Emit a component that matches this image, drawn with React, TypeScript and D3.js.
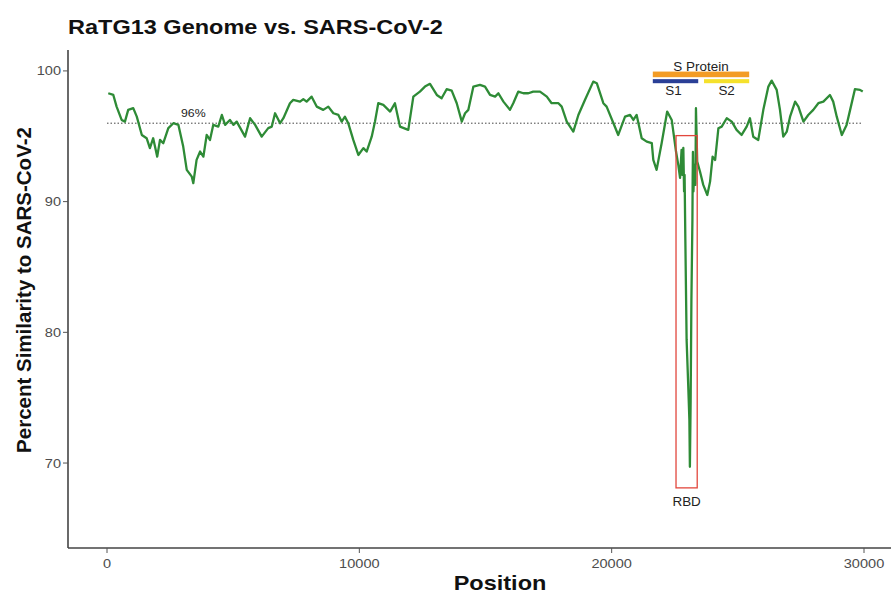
import React from "react";
import * as d3 from "d3";

const positions = [50,250,380,580,710,840,1040,1180,1380,1570,1700,1830,1990,2100,2230,2430,2630,2830,3020,3160,3360,3420,3550,3690,3820,3950,4080,4210,4410,4550,4680,4870,5010,5140,5470,5670,5870,6130,6390,6530,6660,6860,6990,7250,7380,7650,7780,7910,8110,8310,8570,8770,8970,9170,9300,9430,9560,9760,9960,10160,10290,10490,10620,10750,10950,11220,11410,11610,11940,12140,12400,12600,12800,13070,13260,13460,13660,13860,14060,14190,14320,14520,14780,14980,15180,15380,15510,15710,15970,16100,16300,16500,16700,16890,17160,17430,17620,17890,18020,18220,18480,18680,18940,19270,19410,19670,19800,20070,20260,20530,20730,20860,20990,21190,21390,21590,21650,21780,21980,22200,22380,22550,22640,22710,22770,22800,22840,22870,22890,22920,22970,23040,23080,23100,23130,23160,23200,23210,23220,23240,23280,23320,23340,23390,23500,23630,23790,23900,24000,24100,24230,24360,24560,24760,24950,25150,25350,25480,25610,25810,26010,26210,26340,26540,26670,26800,26940,27070,27270,27400,27600,27790,27990,28190,28390,28650,28780,28920,29120,29310,29450,29640,29840,29950];

const similarity = [98.29,98.16,97.27,96.25,96.12,97.02,97.15,96.5,95.1,94.85,94.09,94.85,93.44,94.72,94.47,95.62,96.0,95.87,94.21,92.43,91.91,91.41,93.19,93.83,93.44,95.1,94.72,95.87,95.74,96.63,95.87,96.25,95.87,96.12,94.97,96.38,95.87,94.97,95.62,95.74,96.76,96.0,96.38,97.53,97.78,97.65,97.84,97.65,98.03,97.27,97.02,97.27,96.76,96.63,96.12,96.5,96.0,94.72,93.57,94.09,93.83,94.97,96.12,97.53,97.4,96.89,97.53,95.74,95.49,98.03,98.42,98.8,99.01,98.16,97.91,98.6,98.49,97.53,96.12,96.76,97.02,98.8,98.93,98.8,98.16,98.03,98.29,97.65,97.02,97.53,98.42,98.29,98.29,98.42,98.42,98.03,97.53,97.53,97.27,96.12,95.36,96.63,97.78,99.18,99.06,97.53,97.27,96.0,95.1,96.5,96.63,96.25,96.63,94.85,94.59,94.47,93.19,92.43,94.47,96.89,96.25,93.83,92.81,91.81,93.96,92.04,94.11,90.77,92.04,87.07,79.42,75.6,73.3,69.71,74.83,82.48,88.6,91.66,93.8,90.77,92.81,91.28,97.15,93.06,92.3,91.28,90.51,91.53,93.44,93.19,95.62,95.74,96.38,96.12,95.49,95.1,95.74,96.38,94.97,94.72,97.02,98.8,99.26,98.55,97.02,94.97,95.36,96.5,97.65,97.27,96.12,96.63,97.02,97.53,97.65,98.16,97.65,96.5,95.1,95.87,97.02,98.6,98.55,98.42];

const xTicks = [0, 10000, 20000, 30000];
const yTicks = [70, 80, 90, 100];
const threshold = 96;
const thresholdLabel = "96%";
const thresholdLabelPos = 3420;
const thresholdRange = [0, 29900];

const sProtein = [21630, 25450];
const s1Range = [21630, 23430];
const s2Range = [23660, 25450];
const rbdX = [22550, 23390];
const rbdY = [68.1, 95.05];

const W = 891, H = 595;
const left = 68, right = 891, top = 50, bottom = 548;
const xDomain = [-1546, 31070];
const yDomain = [63.5, 101.6];
const FONT = "'Liberation Sans', Arial, Helvetica, sans-serif";
const SX = 1.12;

function HText({ x, y, anchor = "start", size, weight = "normal", fill = "#222", children }: any) {
  return (
    <text transform={`translate(${x},${y}) scale(${SX},1)`} textAnchor={anchor}
      fontSize={size} fontWeight={weight} fill={fill} fontFamily={FONT}>{children}</text>
  );
}

export default function App() {
  const x = d3.scaleLinear().domain(xDomain).range([left, right]);
  const y = d3.scaleLinear().domain(yDomain).range([bottom, top]);
  const data = positions.map((p, i) => [p, similarity[i]] as [number, number]);
  const line = d3.line<[number, number]>().x(d => x(d[0])).y(d => y(d[1]));

  return (
    <svg width={W} height={H} style={{ position: "absolute", left: 0, top: 0, background: "#fff" }}>
      <rect x={0} y={0} width={W} height={H} fill="#fff" />
      <HText x={68} y={34} size={21} weight="bold" fill="#111">RaTG13 Genome vs. SARS-CoV-2</HText>

      {/* threshold */}
      <line x1={x(thresholdRange[0])} x2={x(thresholdRange[1])} y1={y(threshold)} y2={y(threshold)}
        stroke="#444" strokeWidth={1} strokeDasharray="1.5,2" />
      <HText x={x(thresholdLabelPos)} y={y(96.5)} anchor="middle" size={11} fill="#222">{thresholdLabel}</HText>

      {/* S protein */}
      <rect x={x(sProtein[0])} width={x(sProtein[1]) - x(sProtein[0])} y={y(99.95)} height={y(99.52) - y(99.95)} fill="#f39c25" />
      <rect x={x(s1Range[0])} width={x(s1Range[1]) - x(s1Range[0])} y={y(99.37)} height={y(99.06) - y(99.37)} fill="#2a3f96" />
      <rect x={x(s2Range[0])} width={x(s2Range[1]) - x(s2Range[0])} y={y(99.37)} height={y(99.06) - y(99.37)} fill="#f5e12c" />
      <HText x={x((sProtein[0] + sProtein[1]) / 2)} y={y(100.02)} anchor="middle" size={12}>S Protein</HText>
      <HText x={x((s1Range[0] + s1Range[1]) / 2) - 2} y={y(98.16)} anchor="middle" size={12}>S1</HText>
      <HText x={x((s2Range[0] + s2Range[1]) / 2)} y={y(98.16)} anchor="middle" size={12}>S2</HText>

      {/* line */}
      <path d={line(data) || ""} fill="none" stroke="#2e8b36" strokeWidth={2.3} strokeLinejoin="round" />

      {/* RBD */}
      <rect x={x(rbdX[0])} width={x(rbdX[1]) - x(rbdX[0])} y={y(rbdY[1])} height={y(rbdY[0]) - y(rbdY[1])}
        fill="none" stroke="#e2473d" strokeWidth={1.3} />
      <HText x={x((rbdX[0] + rbdX[1]) / 2)} y={y(66.72)} anchor="middle" size={12}>RBD</HText>

      {/* axes */}
      <line x1={left} x2={left} y1={top} y2={bottom} stroke="#444" strokeWidth={1.6} />
      <line x1={left} x2={right} y1={bottom} y2={bottom} stroke="#444" strokeWidth={1.6} />
      {yTicks.map(t => (
        <g key={t}>
          <line x1={left - 5} x2={left} y1={y(t)} y2={y(t)} stroke="#555" strokeWidth={1} />
          <HText x={left - 7} y={y(t) + 4.5} anchor="end" size={13} fill="#4d4d4d">{t}</HText>
        </g>
      ))}
      {xTicks.map(t => (
        <g key={t}>
          <line x1={x(t)} x2={x(t)} y1={bottom} y2={bottom + 5} stroke="#555" strokeWidth={1} />
          <HText x={x(t)} y={568} anchor="middle" size={13} fill="#4d4d4d">{t}</HText>
        </g>
      ))}
      <HText x={500} y={590} anchor="middle" size={21} weight="bold" fill="#111">Position</HText>
      <text transform={`translate(31,${290}) rotate(-90)`} textAnchor="middle" fontSize={20.5}
        fontWeight="bold" fill="#111" fontFamily={FONT}>Percent Similarity to SARS-CoV-2</text>
    </svg>
  );
}
